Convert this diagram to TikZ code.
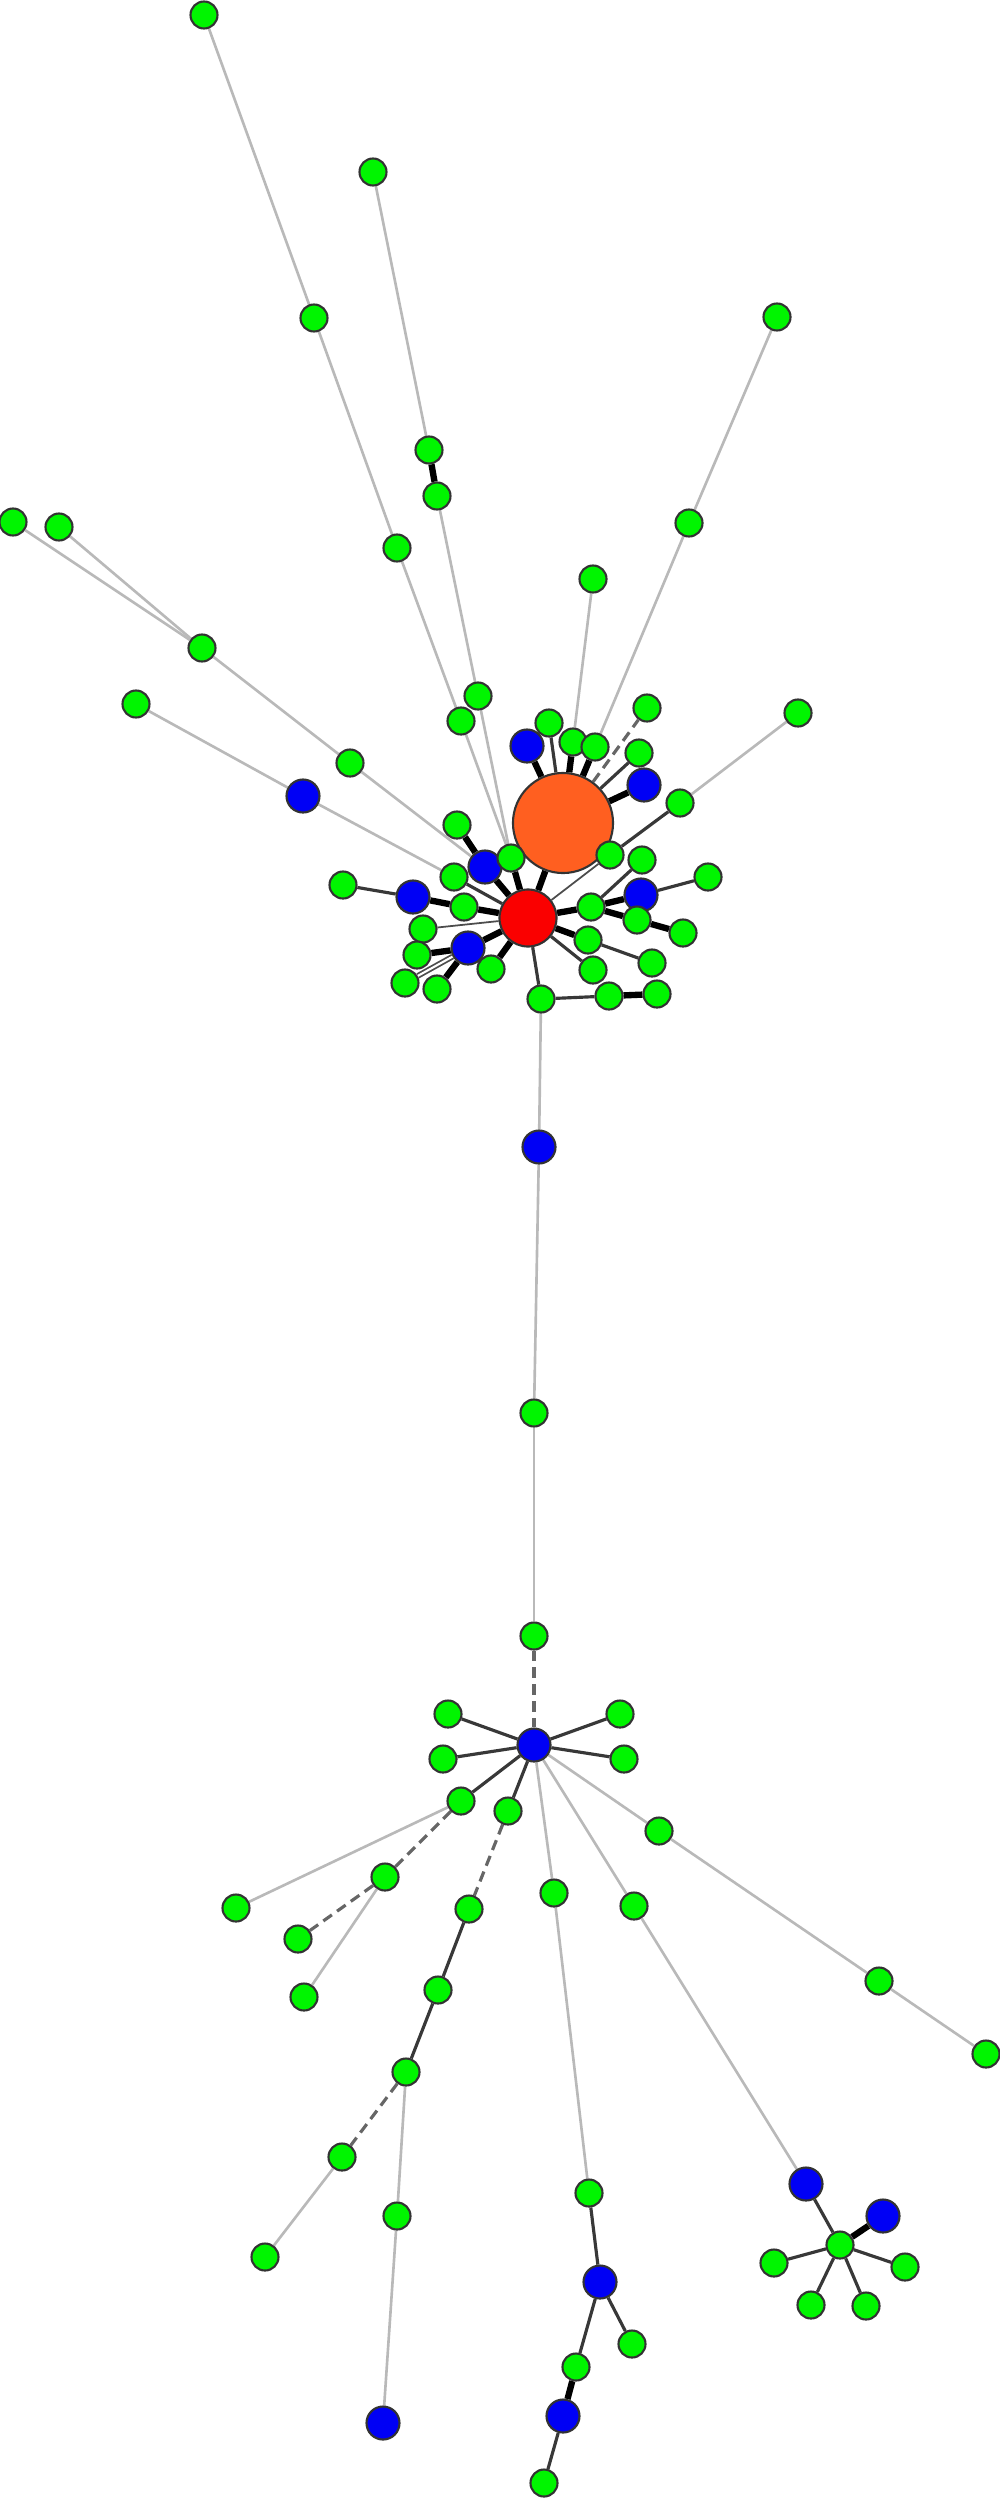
\documentclass[tikz,border=0pt]{standalone}
\usepackage{tikz}
\usetikzlibrary{backgrounds}
\definecolor{leafgreen}{RGB}{0,245,0}
\definecolor{hubblue}{RGB}{0,0,245}
\definecolor{coreorange}{RGB}{255,95,32}
\definecolor{corered}{RGB}{250,0,0}
\tikzset{green node/.style={circle,fill=leafgreen,draw=black!80,line width=0.6pt,minimum size=0.27cm,inner sep=0pt},
blue node/.style={circle,fill=hubblue,draw=black!80,line width=0.6pt,minimum size=0.33cm,inner sep=0pt},
weak/.style={draw=gray!55,line width=0.75pt},
thin/.style={draw=black!70,line width=0.5pt},
mid/.style={draw=black!78,line width=0.9pt},
strong/.style={draw=black,line width=1.8pt},
dashlink/.style={draw=black!60,line width=0.9pt,dash pattern=on 3pt off 1.8pt},
}

\begin{document}
\begin{tikzpicture}[x=0.01cm,y=-0.01cm]
				\useasboundingbox (0,0) rectangle (1000,2500);
				% upper cluster
				\node[circle,fill=coreorange,draw=black!80,line width=0.6pt,minimum size=1cm,inner sep=0pt] (big) at (563,823) {};
				\node[circle,fill=corered,draw=black!80,line width=0.6pt,minimum size=0.57cm,inner sep=0pt] (red) at (528,918) {};
				\node[green node] (g1) at (204,15) {};
				\node[green node] (g2) at (373,172) {};
				\node[green node] (g3) at (777,317) {};
				\node[green node] (g4) at (314,318) {};
				\node[green node] (g5) at (429,450) {};
				\node[green node] (g6) at (437,496) {};
				\node[green node] (g7) at (13,522) {};
				\node[green node] (g8) at (59,527) {};
				\node[green node] (g9) at (689,523) {};
				\node[green node] (g10) at (397,548) {};
				\node[green node] (g11) at (593,579) {};
				\node[green node] (g12) at (202,648) {};
				\node[green node] (g13) at (136,704) {};
				\node[green node] (g14) at (478,696) {};
				\node[green node] (g15) at (647,708) {};
				\node[green node] (g16) at (461,721) {};
				\node[green node] (g17) at (798,713) {};
				\node[blue node] (b18) at (527,746) {};
				\node[green node] (g19) at (549,723) {};
				\node[green node] (g20) at (573,742) {};
				\node[green node] (g21) at (595,747) {};
				\node[green node] (g22) at (639,753) {};
				\node[blue node] (b23) at (644,785) {};
				\node[green node] (g24) at (350,763) {};
				\node[blue node] (b25) at (303,796) {};
				\node[green node] (g26) at (680,803) {};
				\node[green node] (g28) at (457,825) {};
				\node[blue node] (b29) at (485,867) {};
				\node[green node] (g30) at (511,858) {};
				\node[green node] (g31) at (610,855) {};
				\node[green node] (g32) at (343,885) {};
				\node[green node] (g33) at (454,877) {};
				\node[green node] (g34) at (642,860) {};
				\node[green node] (g35) at (708,877) {};
				\node[blue node] (b36) at (413,897) {};
				\node[green node] (g37) at (464,907) {};
				\node[blue node] (b38) at (641,895) {};
				\node[green node] (g39) at (591,907) {};
				\node[green node] (g40) at (637,920) {};
				\node[green node] (g41) at (683,933) {};
				\node[green node] (g42) at (423,929) {};
				\node[green node] (g43) at (588,940) {};
				\node[blue node] (b44) at (468,948) {};
				\node[green node] (g45) at (417,955) {};
				\node[green node] (g46) at (491,969) {};
				\node[green node] (g47) at (652,963) {};
				\node[green node] (g48) at (593,970) {};
				\node[green node] (g49) at (405,983) {};
				\node[green node] (g50) at (437,989) {};
				\node[green node] (g51) at (541,999) {};
				\node[green node] (g52) at (609,996) {};
				\node[green node] (g53) at (657,994) {};
				% long chain
				\node[blue node] (b54) at (539,1147) {};
				\node[green node] (g55) at (534,1413) {};
				\node[green node] (g56) at (534,1636) {};
				% lower cluster
				\node[blue node] (hub) at (534,1745) {};
				\node[green node] (g57) at (448,1714) {};
				\node[green node] (g58) at (620,1714) {};
				\node[green node] (g59) at (443,1759) {};
				\node[green node] (g60) at (624,1759) {};
				\node[green node] (g61) at (461,1801) {};
				\node[green node] (g62) at (508,1811) {};
				\node[green node] (g63) at (659,1831) {};
				\node[green node] (g64) at (236,1908) {};
				\node[green node] (g65) at (385,1877) {};
				\node[green node] (g66) at (298,1939) {};
				\node[green node] (g67) at (469,1909) {};
				\node[green node] (g68) at (554,1893) {};
				\node[green node] (g69) at (634,1906) {};
				\node[green node] (g70) at (304,1997) {};
				\node[green node] (g71) at (438,1990) {};
				\node[green node] (g72) at (879,1981) {};
				\node[green node] (g73) at (986,2054) {};
				\node[green node] (g74) at (406,2072) {};
				\node[green node] (g75) at (342,2157) {};
				\node[green node] (g76) at (265,2257) {};
				\node[green node] (g77) at (397,2216) {};
				\node[blue node] (b78) at (383,2423) {};
				\node[green node] (g79) at (589,2193) {};
				\node[blue node] (b80) at (600,2282) {};
				\node[green node] (g81) at (632,2344) {};
				\node[green node] (g82) at (576,2367) {};
				\node[blue node] (b83) at (563,2416) {};
				\node[green node] (g84) at (544,2483) {};
				\node[blue node] (b85) at (806,2184) {};
				\node[blue node] (b86) at (883,2216) {};
				\node[green node] (g87) at (840,2245) {};
				\node[green node] (g88) at (774,2263) {};
				\node[green node] (g89) at (905,2267) {};
				\node[green node] (g90) at (811,2305) {};
				\node[green node] (g91) at (866,2306) {};
				
				\begin{scope}[on background layer]
				\path
				(g1) edge[weak] (g4)
				(g4) edge[weak] (g10)
				(g10) edge[weak] (g16)
				(g16) edge[weak] (g30)
				(g2) edge[weak] (g5)
				(g5) edge[strong] (g6)
				(g6) edge[weak] (g14)
				(g14) edge[weak] (g30)
				(g3) edge[weak] (g9)
				(g9) edge[weak] (g21)
				(g11) edge[weak] (g20)
				(g7) edge[weak] (g12)
				(g8) edge[weak] (g12)
				(g12) edge[weak] (g24)
				(g24) edge[weak] (b29)
				(g13) edge[weak] (b25)
				(b25) edge[weak] (g33)
				(g17) edge[weak] (g26)
				(g26) edge[mid] (g31)
				(g31) edge[thin] (red)
				(big) edge[strong] (b18)
				(big) edge[mid] (g19)
				(big) edge[strong] (g20)
				(big) edge[strong] (g21)
				(big) edge[dashlink] (g15)
				(big) edge[mid] (g22)
				(big) edge[strong] (b23)
				(big) edge[strong] (red)
				(g28) edge[strong] (b29)
				(b29) edge[strong] (red)
				(g30) edge[strong] (red)
				(g33) edge[mid] (red)
				(g32) edge[mid] (b36)
				(b36) edge[strong] (g37)
				(g37) edge[strong] (red)
				(g42) edge[thin] (red)
				(b44) edge[strong] (red)
				(b44) edge[strong] (g45)
				(b44) edge[thin,double=white,double distance=0.6pt] (g49)
				(b44) edge[strong] (g50)
				(g46) edge[strong] (red)
				(red) edge[mid] (g51)
				(g51) edge[mid] (g52)
				(g52) edge[strong] (g53)
				(red) edge[strong] (g39)
				(g39) edge[strong] (b38)
				(g39) edge[mid] (g34)
				(b38) edge[mid] (g35)
				(g39) edge[strong] (g40)
				(g40) edge[strong] (g41)
				(red) edge[strong] (g43)
				(g43) edge[mid] (g47)
				(red) edge[mid] (g48)
				(g51) edge[weak] (b54)
				(b54) edge[weak] (g55)
				(g55) edge[weak] (g56)
				(g56) edge[dashlink] (hub)
				(hub) edge[mid] (g57)
				(hub) edge[mid] (g58)
				(hub) edge[mid] (g59)
				(hub) edge[mid] (g60)
				(hub) edge[mid] (g61)
				(hub) edge[mid] (g62)
				(hub) edge[weak] (g68)
				(hub) edge[weak] (g69)
				(hub) edge[weak] (g63)
				(g61) edge[weak] (g64)
				(g61) edge[dashlink] (g65)
				(g65) edge[dashlink] (g66)
				(g65) edge[weak] (g70)
				(g62) edge[dashlink] (g67)
				(g67) edge[mid] (g71)
				(g63) edge[weak] (g72)
				(g72) edge[weak] (g73)
				(g69) edge[weak] (b85)
				(g68) edge[weak] (g79)
				(g71) edge[mid] (g74)
				(g74) edge[dashlink] (g75)
				(g75) edge[weak] (g76)
				(g74) edge[weak] (g77)
				(g77) edge[weak] (b78)
				(g79) edge[mid] (b80)
				(b80) edge[mid] (g81)
				(b80) edge[mid] (g82)
				(g82) edge[strong] (b83)
				(b83) edge[mid] (g84)
				(g87) edge[mid] (b85)
				(g87) edge[strong] (b86)
				(g87) edge[mid] (g88)
				(g87) edge[mid] (g89)
				(g87) edge[mid] (g90)
				(g87) edge[mid] (g91);
				\end{scope}
			\end{tikzpicture}
\end{document}
